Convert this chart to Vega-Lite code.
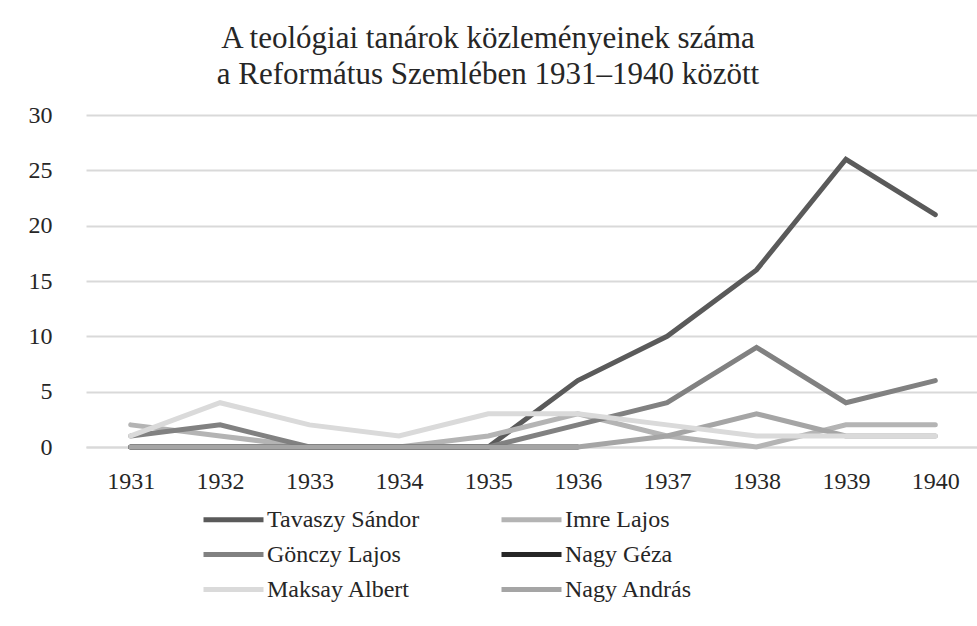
{
  "$schema": "https://vega.github.io/schema/vega-lite/v6.json",
  "autosize": {"type": "none"},
  "width": 894,
  "height": 332,
  "padding": {"left": 86, "top": 115, "right": 0, "bottom": 179},
  "background": "white",
  "title": {
    "text": ["A teológiai tanárok közleményeinek száma", "a Református Szemlében 1931–1940 között"],
    "font": "Liberation Serif",
    "fontSize": 31,
    "fontWeight": "normal",
    "color": "#262626",
    "anchor": "middle",
    "dx": -45,
    "offset": 12,
    "lineHeight": 36
  },
  "config": {
    "view": {"stroke": null},
    "font": "Liberation Serif"
  },
  "data": {
    "values": [
      {"year": "1931", "name": "Tavaszy Sándor", "n": 0},
      {"year": "1932", "name": "Tavaszy Sándor", "n": 0},
      {"year": "1933", "name": "Tavaszy Sándor", "n": 0},
      {"year": "1934", "name": "Tavaszy Sándor", "n": 0},
      {"year": "1935", "name": "Tavaszy Sándor", "n": 0},
      {"year": "1936", "name": "Tavaszy Sándor", "n": 6},
      {"year": "1937", "name": "Tavaszy Sándor", "n": 10},
      {"year": "1938", "name": "Tavaszy Sándor", "n": 16},
      {"year": "1939", "name": "Tavaszy Sándor", "n": 26},
      {"year": "1940", "name": "Tavaszy Sándor", "n": 21},
      {"year": "1931", "name": "Imre Lajos", "n": 2},
      {"year": "1932", "name": "Imre Lajos", "n": 1},
      {"year": "1933", "name": "Imre Lajos", "n": 0},
      {"year": "1934", "name": "Imre Lajos", "n": 0},
      {"year": "1935", "name": "Imre Lajos", "n": 1},
      {"year": "1936", "name": "Imre Lajos", "n": 3},
      {"year": "1937", "name": "Imre Lajos", "n": 1},
      {"year": "1938", "name": "Imre Lajos", "n": 0},
      {"year": "1939", "name": "Imre Lajos", "n": 2},
      {"year": "1940", "name": "Imre Lajos", "n": 2},
      {"year": "1931", "name": "Gönczy Lajos", "n": 1},
      {"year": "1932", "name": "Gönczy Lajos", "n": 2},
      {"year": "1933", "name": "Gönczy Lajos", "n": 0},
      {"year": "1934", "name": "Gönczy Lajos", "n": 0},
      {"year": "1935", "name": "Gönczy Lajos", "n": 0},
      {"year": "1936", "name": "Gönczy Lajos", "n": 2},
      {"year": "1937", "name": "Gönczy Lajos", "n": 4},
      {"year": "1938", "name": "Gönczy Lajos", "n": 9},
      {"year": "1939", "name": "Gönczy Lajos", "n": 4},
      {"year": "1940", "name": "Gönczy Lajos", "n": 6},
      {"year": "1931", "name": "Nagy Géza", "n": 0},
      {"year": "1932", "name": "Nagy Géza", "n": 0},
      {"year": "1933", "name": "Nagy Géza", "n": 0},
      {"year": "1934", "name": "Nagy Géza", "n": 0},
      {"year": "1935", "name": "Nagy Géza", "n": 0},
      {"year": "1936", "name": "Nagy Géza", "n": 0},
      {"year": "1931", "name": "Nagy András", "n": 0},
      {"year": "1932", "name": "Nagy András", "n": 0},
      {"year": "1933", "name": "Nagy András", "n": 0},
      {"year": "1934", "name": "Nagy András", "n": 0},
      {"year": "1935", "name": "Nagy András", "n": 0},
      {"year": "1936", "name": "Nagy András", "n": 0},
      {"year": "1937", "name": "Nagy András", "n": 1},
      {"year": "1938", "name": "Nagy András", "n": 3},
      {"year": "1939", "name": "Nagy András", "n": 1},
      {"year": "1940", "name": "Nagy András", "n": 1},
      {"year": "1931", "name": "Maksay Albert", "n": 1},
      {"year": "1932", "name": "Maksay Albert", "n": 4},
      {"year": "1933", "name": "Maksay Albert", "n": 2},
      {"year": "1934", "name": "Maksay Albert", "n": 1},
      {"year": "1935", "name": "Maksay Albert", "n": 3},
      {"year": "1936", "name": "Maksay Albert", "n": 3},
      {"year": "1937", "name": "Maksay Albert", "n": 2},
      {"year": "1938", "name": "Maksay Albert", "n": 1},
      {"year": "1939", "name": "Maksay Albert", "n": 1},
      {"year": "1940", "name": "Maksay Albert", "n": 1}
    ]
  },
  "mark": {"type": "line", "strokeWidth": 5, "strokeCap": "round", "strokeJoin": "miter"},
  "encoding": {
    "x": {
      "field": "year",
      "type": "ordinal",
      "scale": {"type": "point", "padding": 0.5},
      "axis": {
        "title": null,
        "labelAngle": 0,
        "labelFont": "Liberation Serif",
        "labelFontSize": 24,
        "labelColor": "#262626",
        "labelPadding": 22,
        "ticks": false,
        "domainColor": "#d9d9d9",
        "domainWidth": 2,
        "grid": false
      }
    },
    "y": {
      "field": "n",
      "type": "quantitative",
      "scale": {"domain": [0, 30], "nice": false},
      "axis": {
        "title": null,
        "values": [0, 5, 10, 15, 20, 25, 30],
        "labelFont": "Liberation Serif",
        "labelFontSize": 24,
        "labelColor": "#262626",
        "labelPadding": 34,
        "ticks": false,
        "domain": false,
        "gridColor": "#d9d9d9",
        "gridWidth": 2
      }
    },
    "color": {
      "field": "name",
      "type": "nominal",
      "sort": ["Tavaszy Sándor", "Imre Lajos", "Gönczy Lajos", "Nagy Géza", "Maksay Albert", "Nagy András"],
      "scale": {
        "domain": ["Tavaszy Sándor", "Imre Lajos", "Gönczy Lajos", "Nagy Géza", "Maksay Albert", "Nagy András"],
        "range": ["#5a5a5a", "#b4b4b4", "#818181", "#262626", "#dadada", "#a5a5a5"]
      },
      "legend": {
        "title": null,
        "orient": "none",
        "legendX": 115,
        "legendY": 392,
        "direction": "horizontal",
        "columns": 2,
        "columnPadding": 71,
        "rowPadding": 10,
        "symbolType": "M-1,0H5",
        "symbolSize": 400,
        "symbolStrokeWidth": 5,
        "symbolStrokeCap": "round",
        "labelFont": "Liberation Serif",
        "labelFontSize": 24,
        "labelColor": "#262626",
        "labelOffset": 41,
        "labelLimit": 300
      }
    },
    "order": {"field": "year"}
  }
}
